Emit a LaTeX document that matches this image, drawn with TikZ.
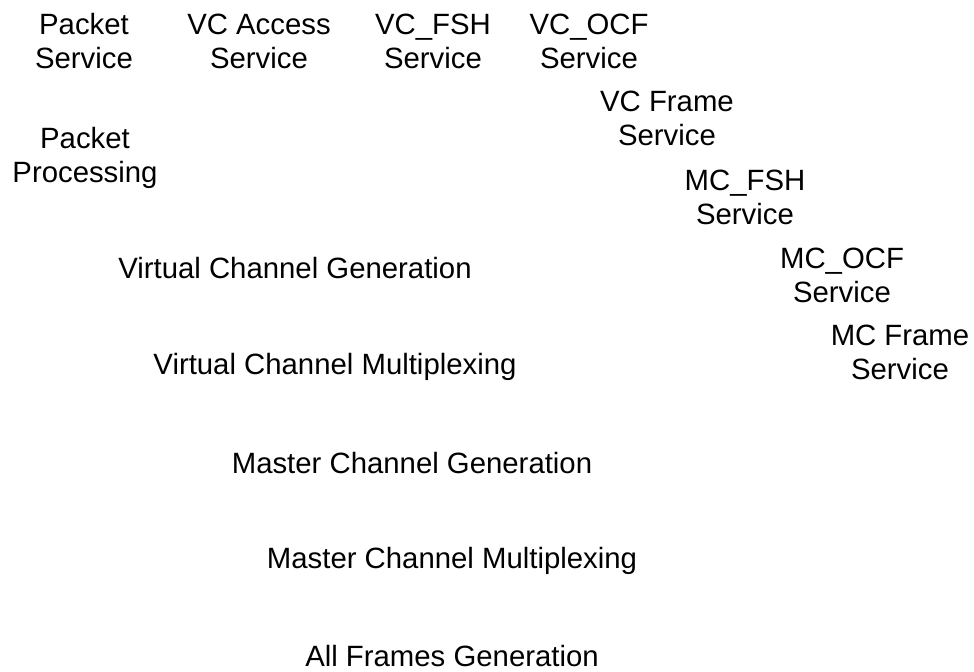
\documentclass[tikz,border=0pt]{standalone}
\usepackage{fontspec}
\setmainfont{Liberation Sans}
\usetikzlibrary{positioning}

\tikzset{
    lbl/.style={align=center, inner sep=0pt, font=\fontsize{22}{25.5}\selectfont}
}

\begin{document}
\begin{tikzpicture}[x=0.75pt, y=-0.75pt]
    \useasboundingbox (0,0) rectangle (974,671);
    % service row
    \node[lbl] (pktsrv) at (84,41) {Packet\\Service};
    \node[lbl] (vcacc) at (259,41) {VC Access\\Service};
    \node[lbl] (vcfsh) at (433,41) {VC\_FSH\\Service};
    \node[lbl] (vcocf) at (589,41) {VC\_OCF\\Service};
    \node[lbl] (vcfrm) at (667,118) {VC Frame\\Service};
    \node[lbl] (mcfsh) at (745,197) {MC\_FSH\\Service};
    \node[lbl] (mcocf) at (842,275) {MC\_OCF\\Service};
    \node[lbl] (mcfrm) at (900,352) {MC Frame\\Service};
    % processing functions
    \node[lbl] (pktproc) at (85,158) {Packet\\Processing};
    \node[lbl] (vcgen) at (295,268) {Virtual Channel Generation};
    \node[lbl] (vcmux) at (335,367) {Virtual Channel Multiplexing};
    \node[lbl] (mcgen) at (412,463) {Master Channel Generation};
    \node[lbl] (mcmux) at (452,561) {Master Channel Multiplexing};
    \node[lbl] (afgen) at (452,656) {All Frames Generation};
\end{tikzpicture}
\end{document}
